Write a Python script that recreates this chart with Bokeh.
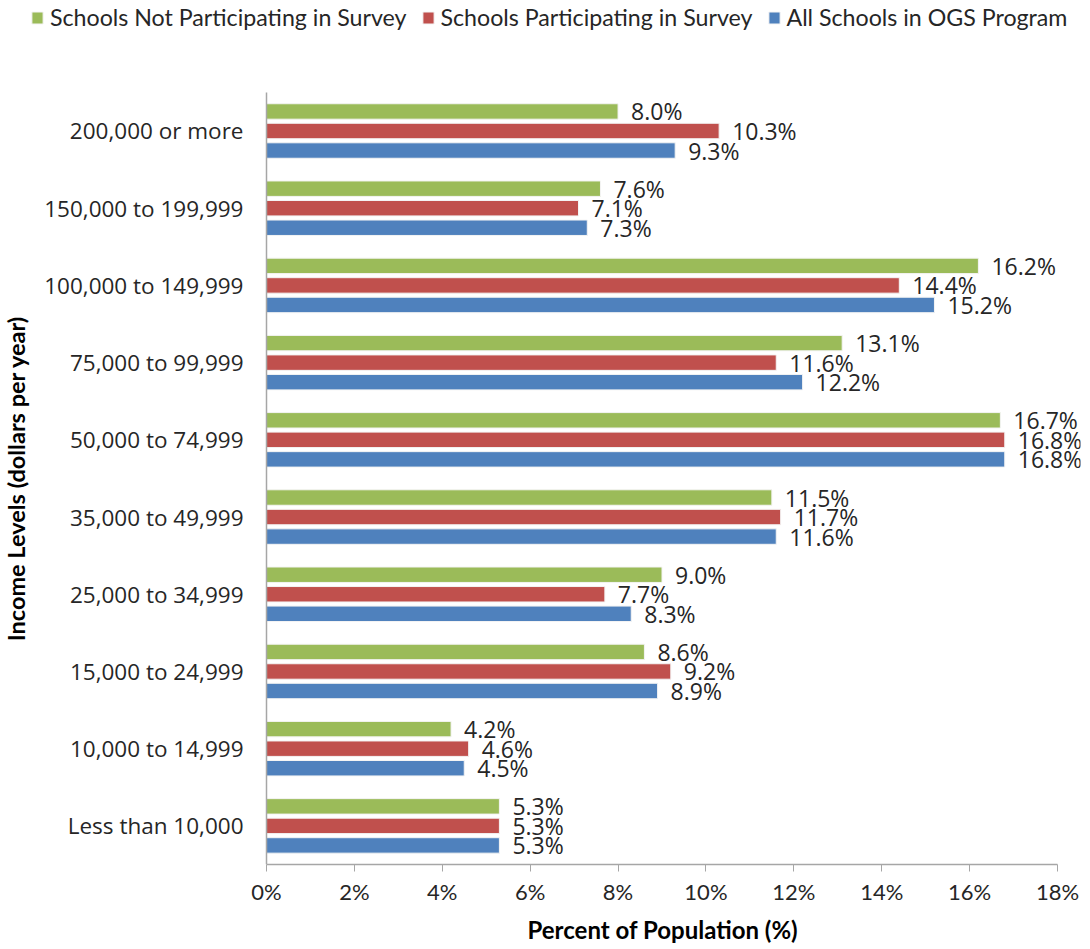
from bokeh.plotting import figure
from bokeh.models import (ColumnDataSource, Legend, LegendItem, FixedTicker, Range1d, LabelSet,
                          Title)
from bokeh.core.properties import value
from bokeh.embed import file_html
from bokeh.resources import INLINE

categories = ["Less than 10,000", "10,000 to 14,999", "15,000 to 24,999", "25,000 to 34,999",
              "35,000 to 49,999", "50,000 to 74,999", "75,000 to 99,999", "100,000 to 149,999",
              "150,000 to 199,999", "200,000 or more"]
not_participating = [5.3, 4.2, 8.6, 9.0, 11.5, 16.7, 13.1, 16.2, 7.6, 8.0]
participating = [5.3, 4.6, 9.2, 7.7, 11.7, 16.8, 11.6, 14.4, 7.1, 10.3]
all_schools = [5.3, 4.5, 8.9, 8.3, 11.6, 16.8, 12.2, 15.2, 7.3, 9.3]
x_ticks = [0, 2, 4, 6, 8, 10, 12, 14, 16, 18]
x_max = 18

series = [
    ("Schools Not Participating in Survey", not_participating, "#9BBB59", 0.253),
    ("Schools Participating in Survey", participating, "#C0504D", 0.0),
    ("All Schools in OGS Program", all_schools, "#4F81BD", -0.253),
]

LABEL_FONT = "Open Sans"
NARROW = "Lato"

# page geometry (pixels)
W, H = 1082, 948
AX_L, AX_R, AX_T, AX_B = 266, 1057, 92, 865   # plotted area of the axes
FR_R = 1080                                    # frame right edge
n = len(categories)
px_x = (AX_R - AX_L) / x_max
px_y = (AX_B - AX_T) / n
x_start = -AX_L / px_x
x_end = x_max + (FR_R - AX_R) / px_x
y_start = -0.5
y_end = n - 0.5 + AX_T / px_y

p = figure(width=W, height=H, output_backend="svg", toolbar_location=None,
           x_range=Range1d(x_start, x_end), y_range=Range1d(y_start, y_end),
           min_border_left=0, min_border_right=W - FR_R, min_border_top=0,
           min_border_bottom=H - AX_B)
p.outline_line_color = None
p.xgrid.grid_line_color = None
p.ygrid.grid_line_color = None

items = []
for name, vals, color, off in series:
    ys = [i + off for i in range(n)]
    src = ColumnDataSource(dict(y=ys, v=vals, lab=[f"{v:.1f}%" for v in vals]))
    r = p.hbar(y="y", right="v", left=0, height=0.2, source=src, fill_color=color,
               line_color="#f4f4f4", line_width=1)
    p.add_layout(LabelSet(x="v", y="y", text="lab", source=src, x_offset=13, y_offset=0,
                          text_align="left", text_baseline="middle",
                          text_font=value(LABEL_FONT),
                          text_font_size="23px", text_color="#262626"))
    items.append(LegendItem(label=name, renderers=[r]))

p.xaxis.ticker = FixedTicker(ticks=x_ticks)
p.xaxis.bounds = (0, x_max)
p.xaxis.major_label_overrides = {t: f"{t}%" for t in x_ticks}
p.xaxis.minor_tick_line_color = None
p.xaxis.major_tick_in = 0
p.xaxis.major_tick_out = 7
p.xaxis.major_tick_line_color = "#a6a6a6"
p.xaxis.axis_line_color = "#a6a6a6"
p.xaxis.axis_line_width = 1.5
p.xaxis.major_label_text_font = NARROW
p.xaxis.major_label_text_font_size = "22px"
p.xaxis.major_label_text_color = "#262626"
p.xaxis.major_label_standoff = 6

xtitle = Title(text="Percent of Population (%)", align="left", offset=527, standoff=10,
               text_font=NARROW, text_font_style="bold", text_font_size="24px",
               text_color="#000000")
p.add_layout(xtitle, "below")

p.yaxis.fixed_location = 0
p.yaxis.bounds = (-0.5, n - 0.5)
p.yaxis.ticker = FixedTicker(ticks=list(range(n)))
p.yaxis.major_label_overrides = {i: c for i, c in enumerate(categories)}
p.yaxis.minor_tick_line_color = None
p.yaxis.major_tick_in = 0
p.yaxis.major_tick_out = 0
p.yaxis.axis_line_color = "#a6a6a6"
p.yaxis.axis_line_width = 1.5
p.yaxis.major_label_text_font = LABEL_FONT
p.yaxis.major_label_text_font_size = "22.5px"
p.yaxis.major_label_text_color = "#262626"
p.yaxis.major_label_standoff = 23
p.yaxis.axis_label = "Income Levels (dollars per year)"
p.yaxis.axis_label_text_font = NARROW
p.yaxis.axis_label_text_font_style = "bold"
p.yaxis.axis_label_text_font_size = "23.5px"
p.yaxis.axis_label_text_color = "#000000"
p.yaxis.axis_label_standoff = 11

legend = Legend(items=items, orientation="horizontal", location=(30, AX_B - 32),
                label_text_font=NARROW, label_text_font_size="23.2px", label_text_color="#262626",
                glyph_width=14, glyph_height=15, label_standoff=6, spacing=14,
                border_line_color=None, background_fill_alpha=0, padding=0, margin=0)
p.add_layout(legend, "center")

open("out.html", "w").write(file_html(p, INLINE))
